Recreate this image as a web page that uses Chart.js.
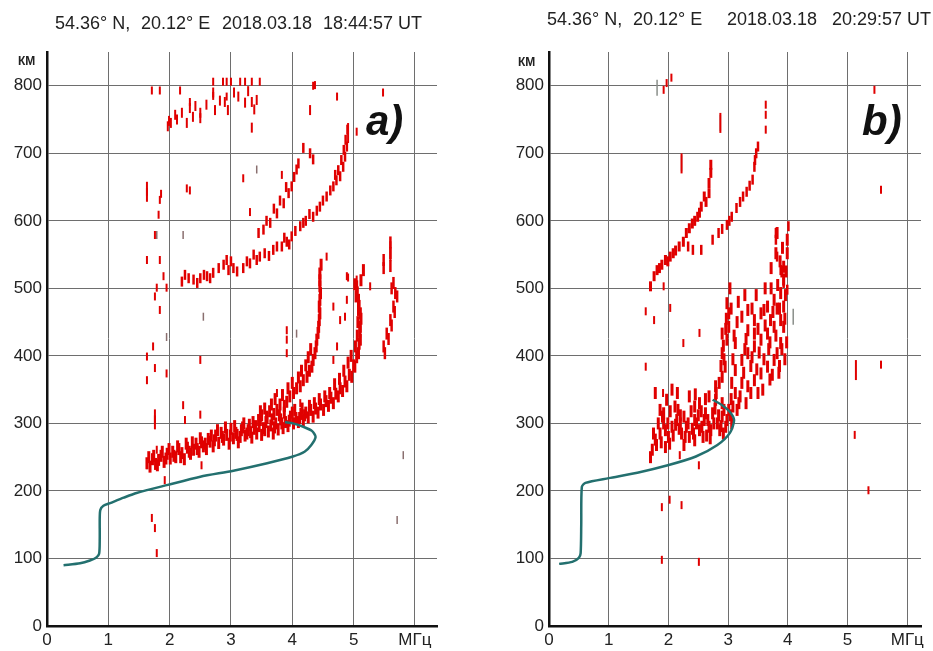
<!DOCTYPE html>
<html>
<head>
<meta charset="utf-8">
<script src="https://cdn.jsdelivr.net/npm/chart.js@4.4.1/dist/chart.umd.min.js"></script>
<style>
  body { margin: 0; background: #fff; width: 933px; height: 651px; overflow: hidden; position: relative; font-family: "Liberation Sans", Arial, sans-serif; }
  canvas { position: absolute; top: 0; }
  .t { position: absolute; font-size: 18px; color: #222; white-space: pre; line-height: 18px; }
  .km { position: absolute; font-size: 12px; font-weight: bold; color: #222; line-height: 12px; }
  .lab { position: absolute; font-size: 42px; font-weight: bold; font-style: italic; color: #111; line-height: 42px; }
</style>
</head>
<body>
<canvas id="ca" width="466" height="651" style="left:0"></canvas>
<canvas id="cb" width="467" height="651" style="left:466px"></canvas>

<div class="t" style="left:55px;top:14px">54.36° N,</div>
<div class="t" style="left:141px;top:14px">20.12° E</div>
<div class="t" style="left:222px;top:14px">2018.03.18</div>
<div class="t" style="left:323px;top:14px">18:44:57 UT</div>
<div class="t" style="left:547px;top:10px">54.36° N,</div>
<div class="t" style="left:633px;top:10px">20.12° E</div>
<div class="t" style="left:727px;top:10px">2018.03.18</div>
<div class="t" style="left:832px;top:10px">20:29:57 UT</div>
<div class="km" style="left:18px;top:55px">КМ</div>
<div class="km" style="left:518px;top:56px">КМ</div>
<div class="lab" style="left:366px;top:100px">a)</div>
<div class="lab" style="left:862px;top:100px">b)</div>

<script>
// axis ticks
const freqTicks = [0, 1, 2, 3, 4, 5, 6];
const heightTicks = [0, 100, 200, 300, 400, 500, 600, 700, 800];

// ---- panel a) 18:44:57 UT ----  [MHz, km]
const aProfile = [[0.27,90],[0.54,93],[0.70,97],[0.80,101],[0.85,107],[0.86,130],[0.86,160],[0.87,172],[0.92,178],[1.03,182],[1.25,190],[1.46,197],[1.97,209],[2.50,221],[3.04,230],[3.59,241],[4.01,251],[4.20,258],[4.31,268],[4.38,280],[4.32,289],[4.18,295],[4.01,300],[3.88,302]];

const aLowTrace = [[1.63,241],[1.68,236],[1.72,247],[1.77,240],[1.82,246],[1.86,252],[1.91,243],[1.96,255],[2.01,248],[2.05,258],[2.10,250],[2.15,262],[2.20,256],[2.24,247],[2.29,264],[2.34,255],[2.39,261],[2.43,270],[2.48,258],[2.52,272],[2.55,266],[2.60,262],[2.63,277],[2.66,273],[2.71,266],[2.75,282],[2.80,271],[2.84,286],[2.88,276],[2.93,283],[2.97,270],[3.00,292],[3.04,278],[3.08,286],[3.12,272],[3.15,280],[3.19,294],[3.23,282],[3.26,285],[3.30,298],[3.34,279],[3.38,292],[3.42,285],[3.46,296],[3.50,283],[3.53,293],[3.57,302],[3.61,288],[3.65,297],[3.69,285],[3.73,300],[3.77,291],[3.81,306],[3.85,293],[3.89,302],[3.93,296],[3.97,310],[4.02,300],[4.06,308],[4.10,302],[4.14,314],[4.18,305],[4.22,316],[4.26,309],[4.30,320],[4.34,310],[4.38,322],[4.42,316],[4.46,328],[4.51,320],[4.55,333],[4.59,326],[4.63,338],[4.67,330],[4.71,344],[4.75,340],[4.78,352],[4.82,348],[4.86,362],[4.89,355],[4.93,372],[4.97,369],[5.00,386],[5.02,384],[5.05,398],[5.08,404],[5.09,418],[5.11,424],[5.10,436],[5.11,443],[5.12,455],[5.11,463],[5.09,474],[5.08,483],[5.06,494],[5.05,503],[5.12,512],[5.16,527]];
const aLowFill = [[1.66,250],[1.74,252],[1.80,238],[1.88,258],[1.94,248],[1.99,262],[2.07,252],[2.13,266],[2.18,250],[2.27,270],[2.32,258],[2.37,272],[2.45,262],[2.50,278],[2.58,270],[2.68,282],[2.73,275],[2.78,290],[2.86,280],[2.91,294],[2.99,282],[3.06,296],[3.10,283],[3.17,290],[3.21,300],[3.28,290],[3.32,287],[3.36,302],[3.40,296],[3.48,305],[3.55,290],[3.59,308],[3.67,306],[3.71,294],[3.79,312],[3.83,300],[3.87,316],[3.95,304],[4.00,316],[4.04,320],[4.12,308],[4.16,322],[4.20,312],[4.28,326],[4.36,330],[4.44,336],[4.53,340],[4.61,345],[4.69,358],[4.77,366],[4.84,378],[4.91,390],[4.96,400],[5.03,414],[5.06,430],[5.07,450],[5.08,468],[5.04,488],[5.02,506]];
const aLowSteep = [[3.45,305],[3.50,312],[3.58,310],[3.63,318],[3.70,314],[3.75,320],[3.80,328],[3.87,326],[3.91,332],[3.96,340],[4.02,345],[4.07,352],[4.13,355],[4.18,364],[4.24,369],[4.28,378],[4.32,384],[4.34,394],[4.37,404],[4.39,414],[4.40,424],[4.42,434],[4.43,443],[4.44,453],[4.45,463],[4.44,473],[4.45,483],[4.46,493],[4.45,503],[4.45,512],[4.45,522],[4.47,535],[3.48,318],[3.55,322],[3.66,328],[3.72,336],[3.84,342],[3.93,352],[4.00,360],[4.10,368],[4.15,378],[4.22,386],[4.26,398],[4.30,410]];
const aRightTrace = [[5.49,414],[5.51,404],[5.54,433],[5.57,425],[5.60,453],[5.62,445],[5.65,473],[5.67,465],[5.68,493],[5.65,508],[5.62,500],[5.60,533],[5.60,552],[5.60,568],[5.49,530],[5.49,542],[5.71,488]];
const aMidTrace = [[2.20,510],[2.31,515],[2.39,513],[2.50,515],[2.61,518],[2.71,523],[2.93,542],[2.96,527],[3.04,530],[3.20,530],[3.31,537],[3.42,542],[3.47,547],[3.69,557],[3.83,562],[3.91,569],[3.99,577],[4.13,592],[4.18,597],[4.34,606],[4.45,621],[4.56,636],[4.67,651],[4.72,660],[4.78,666],[4.83,680],[4.86,695],[4.89,710],[4.90,735],[2.25,520],[2.45,508],[2.56,520],[2.66,515],[2.80,530],[2.88,535],[3.00,540],[3.10,525],[3.26,540],[3.37,550],[3.55,552],[3.62,548],[3.75,562],[3.87,575],[3.95,565],[4.05,585],[4.22,600],[4.28,610],[4.40,615],[4.50,630],[4.62,645],[4.70,668],[4.75,675],[4.80,690],[4.84,705],[4.87,720]];
const aMidSteep = [[3.45,582],[3.53,587],[3.64,597],[3.75,611],[3.86,626],[3.94,641],[3.99,651],[4.07,676],[4.10,685],[4.18,708],[4.29,700],[4.34,691],[3.58,600],[3.70,618],[3.80,630],[3.90,650],[4.03,665]];
const aTopTrace = [[1.97,740],[1.99,748],[2.09,757],[2.28,745],[2.33,767],[2.38,754],[2.50,752],[2.50,760],[2.71,790],[2.74,764],[2.90,776],[2.95,764],[3.12,784],[3.23,775],[3.34,776],[3.42,779],[3.34,738],[4.29,764],[2.02,745],[2.12,750],[2.20,760],[2.42,770],[2.60,772],[2.82,778],[3.05,790],[3.28,792],[3.38,765]];
const aTopRow = [[1.71,793],[1.84,793],[2.17,793],[2.71,806],[2.71,785],[2.87,806],[2.93,806],[3.00,806],[3.15,806],[3.23,806],[3.34,806],[3.47,806],[4.34,800],[4.73,784],[5.48,790],[2.33,776],[2.93,784]];
const aSporadic = [[1.76,306],[1.79,261],[2.25,305],[2.50,313],[2.22,327],[1.71,160],[1.76,145],[1.79,108],[1.92,216],[2.52,238],[1.63,542],[1.84,542],[1.90,518],[1.76,488],[1.84,468],[1.73,414],[1.63,399],[1.76,382],[1.95,374],[1.63,364],[2.50,394],[1.84,631],[1.86,640],[1.63,643],[1.82,609],[2.28,648],[2.33,645],[1.76,579],[1.79,501],[1.95,501],[3.20,663],[3.83,668],[4.67,394],[4.73,414],[4.78,453],[4.86,458],[4.89,483],[5.05,513],[4.91,516],[5.27,503],[4.67,473],[3.91,438],[3.91,424],[3.91,404],[3.75,345],[4.13,330],[4.56,547],[4.89,518],[4.37,801],[5.05,732],[3.31,613]];
const aLong = [[4.91,730],[1.76,306],[5.60,555],[4.45,515],[1.63,643]];
const aFaint = [[5.81,253],[5.71,157],[3.42,676],[2.22,579],[4.07,433],[1.79,579],[2.55,458],[1.95,428],[1.63,238]];

// ---- panel b) 20:29:57 UT ----  [MHz, km]
const bProfile = [[0.17,92],[0.39,95],[0.50,101],[0.53,108],[0.54,150],[0.55,206],[0.61,212],[1.00,219],[1.48,227],[1.99,238],[2.46,251],[2.82,268],[3.03,286],[3.10,305],[3.03,317],[2.90,327],[2.74,335]];

const bLowCluster = [[1.73,261],[1.78,276],[1.86,285],[1.92,300],[2.00,280],[2.06,295],[2.14,305],[2.22,285],[2.30,295],[2.35,280],[2.44,305],[2.52,290],[2.60,305],[2.68,295],[2.74,315],[2.82,300],[2.90,310],[2.98,305],[3.01,320],[1.97,335],[1.92,315],[2.11,325],[2.35,340],[2.52,330],[2.68,340],[1.78,345],[2.06,350],[2.79,335],[1.80,268],[1.95,290],[2.18,292],[2.40,292],[2.64,282],[2.86,290],[3.06,300],[2.55,318],[2.20,312],[2.90,330],[2.44,325],[1.86,320]];
const bLowFill = [[1.75,285],[1.83,300],[1.88,272],[1.90,310],[1.99,300],[2.03,318],[2.08,282],[2.12,298],[2.16,320],[2.20,300],[2.26,310],[2.28,280],[2.33,300],[2.38,318],[2.42,285],[2.47,300],[2.50,312],[2.56,295],[2.58,280],[2.62,315],[2.66,305],[2.71,290],[2.76,300],[2.78,322],[2.84,312],[2.88,296],[2.93,320],[2.96,295],[3.04,312],[3.08,325],[1.95,265],[2.02,270],[2.26,268],[2.44,275],[2.70,278],[2.92,285],[1.70,250],[2.15,345],[2.45,343],[2.62,336]];
const bRightCluster = [[2.79,355],[2.90,369],[2.95,384],[2.90,404],[2.98,424],[3.01,443],[3.01,463],[2.98,478],[3.12,345],[3.23,360],[3.33,355],[3.44,364],[3.55,374],[3.66,384],[3.77,394],[3.12,379],[3.23,394],[3.33,404],[3.44,414],[3.55,424],[3.66,433],[3.77,443],[3.88,453],[3.12,419],[3.33,438],[3.44,453],[3.55,463],[3.66,473],[3.77,483],[3.88,493],[3.93,513],[3.93,532],[3.99,552],[3.99,572],[3.82,582],[3.80,552],[3.88,419],[3.82,404],[3.33,468],[3.60,468],[2.90,433],[3.23,458],[3.44,433],[3.71,453],[3.93,473],[3.93,443],[3.05,336],[3.18,330],[3.50,345],[3.70,365],[3.85,375],[3.95,395],[3.98,420],[3.90,525]];
const bRightFill = [[2.80,345],[2.85,360],[2.88,385],[2.93,395],[2.92,415],[2.96,440],[2.97,455],[3.05,470],[3.03,500],[3.06,360],[3.08,395],[3.10,430],[3.15,450],[3.17,480],[3.20,340],[3.26,375],[3.28,410],[3.30,425],[3.28,490],[3.38,345],[3.38,385],[3.40,398],[3.40,470],[3.47,490],[3.48,380],[3.50,440],[3.52,405],[3.58,350],[3.60,395],[3.62,445],[3.62,500],[3.68,410],[3.70,420],[3.72,500],[3.74,372],[3.75,465],[3.80,430],[3.82,470],[3.83,505],[3.86,385],[3.87,540],[3.90,410],[3.91,560],[3.95,455],[3.96,490],[3.97,525],[3.72,530],[3.86,470],[3.15,320],[3.30,330]];
const bUpper1 = [[1.70,503],[1.76,518],[1.81,527],[1.89,535],[1.95,542],[2.03,547],[2.08,552],[2.25,569],[2.30,582],[2.35,589],[2.49,606],[2.55,621],[2.60,636],[2.68,641],[2.68,656],[2.71,671],[2.71,683],[1.85,530],[1.99,540],[2.12,556],[2.18,562],[2.40,596],[2.44,600],[2.52,612],[2.63,628]];
const bUpper2 = [[2.33,562],[2.41,557],[2.55,557],[2.74,572],[2.84,582],[2.98,594],[3.06,606],[3.14,619],[3.25,636],[3.31,643],[3.41,661],[3.44,680],[3.47,700],[3.50,710],[2.90,588],[3.02,600],[3.20,628],[3.36,652],[3.45,690]];
const bRightTrace = [[3.80,582],[3.80,572],[3.82,547],[3.88,527],[3.93,508],[3.99,498],[4.01,592]];
const bSporadic = [[3.63,772],[3.63,757],[3.63,735],[1.97,804],[2.05,812],[1.92,794],[1.62,466],[1.76,453],[2.03,471],[2.52,434],[2.25,419],[1.62,384],[1.92,503],[1.91,345],[2.19,253],[2.51,238],[1.89,176],[2.02,187],[2.22,179],[1.89,98],[2.51,95],[5.12,283],[5.35,201],[5.56,387],[5.56,646],[5.45,794]];
const bLong = [[5.14,379],[2.87,745],[2.22,685]];
const bFaint = [[1.81,797],[4.09,458],[2.22,685],[2.87,745]];

// ---- helpers ----
const toXY = arr => arr.map(p => ({ x: p[0], y: p[1] }));
const RED = '#e00000';

function marks(arr, color, r, w) {
  return { data: toXY(arr), pointStyle: 'line', rotation: 90, pointRadius: r,
    pointBorderColor: color, pointBorderWidth: w, showLine: false };
}
function profile(arr) {
  return { data: toXY(arr), showLine: true, pointRadius: 0, borderColor: '#23706f',
    borderWidth: 2.5, tension: 0.25, fill: false };
}

function makePanel(id, datasets, xMax, axisWidth, padRight) {
  new Chart(document.getElementById(id), {
    type: 'scatter',
    data: { datasets: datasets },
    options: {
      responsive: false, animation: false, events: [], devicePixelRatio: 1,
      layout: { padding: { top: 52, right: padRight, left: 0, bottom: 0 } },
      plugins: { legend: { display: false }, tooltip: { enabled: false } },
      scales: {
        x: {
          type: 'linear', min: 0, max: xMax,
          afterBuildTicks: s => { s.ticks = freqTicks.map(v => ({ value: v })); },
          afterFit: s => { s.height = 25; },
          grid: { color: '#6e6e6e', lineWidth: 1, drawTicks: false },
          border: { color: '#111', width: 2.5 },
          ticks: { padding: 4, color: '#222', font: { size: 17, family: 'Liberation Sans' },
            callback: v => v === 6 ? 'МГц' : v }
        },
        y: {
          type: 'linear', min: 0, max: 850,
          afterBuildTicks: s => { s.ticks = heightTicks.map(v => ({ value: v })); },
          afterFit: s => { s.width = axisWidth; },
          grid: { color: '#6e6e6e', lineWidth: 1, drawTicks: false },
          border: { color: '#111', width: 2.5 },
          ticks: { padding: 5, color: '#222', font: { size: 17, family: 'Liberation Sans' } }
        }
      }
    }
  });
}

makePanel('ca', [
  profile(aProfile),
  marks(aLowTrace, RED, 6, 3),
  marks(aLowFill, RED, 6, 3),
  marks(aLowSteep, RED, 6, 3),
  marks(aRightTrace, RED, 6, 2.5),
  marks(aMidTrace, RED, 5, 2.5),
  marks(aMidSteep, RED, 5, 2.5),
  marks(aTopTrace, RED, 5, 2),
  marks(aTopRow, RED, 4, 2),
  marks(aSporadic, RED, 4, 2),
  marks(aLong, RED, 10, 2),
  marks(aFaint, '#8a6f6f', 4, 1.5)
], 6.36, 47, 29);

makePanel('cb', [
  profile(bProfile),
  marks(bLowCluster, RED, 6, 3),
  marks(bLowFill, RED, 6, 3),
  marks(bRightCluster, RED, 6, 3),
  marks(bRightFill, RED, 6, 3),
  marks(bUpper1, RED, 5, 3),
  marks(bUpper2, RED, 5, 2.5),
  marks(bRightTrace, RED, 5, 2.5),
  marks(bSporadic, RED, 4, 2),
  marks(bLong, RED, 10, 2),
  marks(bFaint, '#8a8f8a', 8, 1.5)
], 6.23, 83, 2);
</script>
</body>
</html>
